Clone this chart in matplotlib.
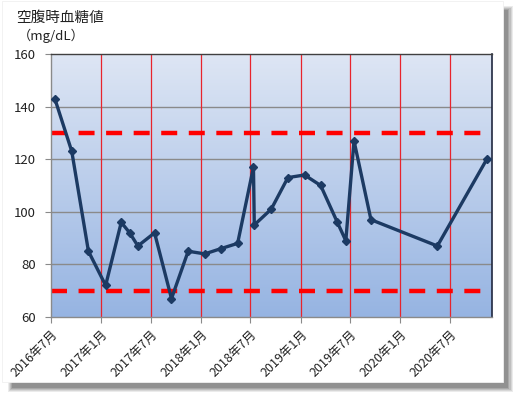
import matplotlib
matplotlib.use("Agg")
import matplotlib.pyplot as plt
from matplotlib.patches import Rectangle
import numpy as np
import datetime as dt

plt.rcParams['font.family'] = ['Noto Sans CJK JP', 'DejaVu Sans']

dates = ['2016-07-15', '2016-09-15', '2016-11-15', '2017-01-17', '2017-03-15',
         '2017-04-15', '2017-05-15', '2017-07-15', '2017-09-15', '2017-11-15',
         '2018-01-15', '2018-03-15', '2018-05-15', '2018-07-12', '2018-07-15',
         '2018-09-15', '2018-11-15', '2019-01-15', '2019-03-15', '2019-05-15',
         '2019-06-15', '2019-07-15', '2019-09-15', '2020-05-15', '2020-11-12']
glucose = [143, 123, 85, 72, 96, 92, 87, 92, 67, 85, 84, 86, 88, 117, 95,
           101, 113, 114, 110, 96, 89, 127, 97, 87, 120]
upper_limit = 130
lower_limit = 70
tick_dates = ['2016-07-01', '2017-01-01', '2017-07-01', '2018-01-01', '2018-07-01',
              '2019-01-01', '2019-07-01', '2020-01-01', '2020-07-01']
tick_labels = ['2016年7月', '2017年1月', '2017年7月', '2018年1月', '2018年7月',
               '2019年1月', '2019年7月', '2020年1月', '2020年7月']
y_ticks = [60, 80, 100, 120, 140, 160]
title = '空腹時血糖値'
unit = '（mg/dL）'

to_d = lambda s: dt.datetime.strptime(s, '%Y-%m-%d')
xd = [to_d(s) for s in dates]
td = [to_d(s) for s in tick_dates]

W, H = 518, 398
fig = plt.figure(figsize=(W / 100, H / 100), dpi=100)
fig.patch.set_facecolor('white')

# card shadow
for i, a in enumerate([0.10, 0.12, 0.15, 0.18, 0.22]):
    off = 9 - i * 1.2
    fig.patches.append(Rectangle(((8 + i) / W, (H - 392 + i) / H),
                                 (504 - 8 + off - i) / W, (392 - 6 - 2 * i) / H,
                                 transform=fig.transFigure, facecolor='#404040',
                                 alpha=a, edgecolor='none', zorder=0))
fig.patches.append(Rectangle((2 / W, (H - 382) / H), (503 - 2) / W, (382 - 1) / H,
                             transform=fig.transFigure, facecolor='white',
                             edgecolor='#f0f0f0', linewidth=0.6, zorder=1))

left, right, top, bottom = 51, 492, 54, 317
ax = fig.add_axes([left / W, 1 - bottom / H, (right - left) / W, (bottom - top) / H])
ax.set_zorder(2)
ax.patch.set_alpha(0)

# gradient background
grad = np.linspace(0, 1, 256).reshape(-1, 1)
c_top = np.array([222, 230, 244]) / 255
c_bot = np.array([150, 180, 226]) / 255
img = c_top[None, None, :] * (1 - grad[:, :, None]) + c_bot[None, None, :] * grad[:, :, None]
ax.imshow(img, extent=[0, 1, 0, 1], transform=ax.transAxes, aspect='auto', zorder=0)

ax.set_xlim(to_d('2016-07-01'), to_d('2020-12-01'))
ax.set_ylim(60, 160)

for y in y_ticks[1:-1]:
    ax.axhline(y, color='#8a8a8a', linewidth=1.0, zorder=1)
for d in td[1:]:
    ax.axvline(d, color='#e8242c', linewidth=0.9, zorder=1)

dash = (0, (3.6, 2.6))
ax.axhline(upper_limit, color='#ff0000', linewidth=3.2, linestyle=dash, zorder=2)
ax.axhline(lower_limit, color='#ff0000', linewidth=3.2, linestyle=dash, zorder=2)

ax.plot(xd, glucose, color='#1c3a63', linewidth=2.4, marker='D', markersize=3.6,
        markeredgecolor='#1c3a63', zorder=3)

ax.set_yticks(y_ticks)
ax.set_yticklabels([str(v) for v in y_ticks], fontsize=9.5, color='#222222')
ax.set_xticks(td)
ax.set_xticklabels(tick_labels, fontsize=9, rotation=45, ha='right',
                   rotation_mode='anchor', color='#222222')
ax.tick_params(axis='both', length=4, width=0.8, color='#8a8a8a')
ax.tick_params(axis='x', pad=4)
ax.tick_params(axis='y', pad=7)

for s in ['left', 'bottom']:
    ax.spines[s].set_color('#8a8a8a')
    ax.spines[s].set_linewidth(1.0)
ax.spines['top'].set_color('#404040')
ax.spines['right'].set_color('#202840')
ax.spines['top'].set_linewidth(1.0)
ax.spines['right'].set_linewidth(1.2)

fig.text(16 / W, 1 - 18 / H, title, fontsize=10.5, ha='left', va='center', color='#222222')
fig.text(18 / W, 1 - 36 / H, unit, fontsize=9.5, ha='left', va='center', color='#222222')

fig.savefig('out.png', dpi=100)
